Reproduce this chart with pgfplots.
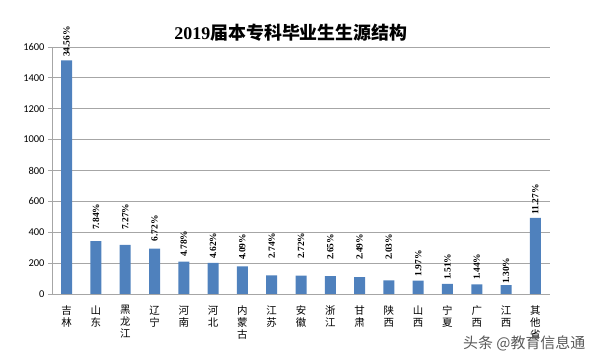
\documentclass[border=0pt]{standalone}
\usepackage{pgfplots}
\pgfplotsset{compat=1.18}
\usepackage{pgfplotstable}
\usepackage{fontspec}
\setmainfont{Liberation Serif}
\newfontfamily\cjk{Noto Sans CJK SC}
\newfontfamily\tickfont{Carlito}
\definecolor{barblue}{RGB}{79,129,189}
\definecolor{gridgray}{RGB}{166,166,166}
\pgfplotstableread{
x v ly lab
0 1514 1535 34.56
1 343 415 7.84
2 318 415 7.27
3 294 339 6.72
4 209 240 4.78
5 202 227 4.62
6 179 220 4.09
7 120 227 2.74
8 119 227 2.72
9 116 220 2.65
10 109 220 2.49
11 89 220 2.03
12 86 112 1.97
13 66 91 1.51
14 63 91 1.44
15 57 65 1.30
16 493 512 11.27
}\data
\begin{document}
\begin{tikzpicture}
\useasboundingbox (0,0) rectangle (598bp,356bp);
\begin{axis}[
  at={(52bp,62bp)}, anchor=south west,
  scale only axis, width=498bp, height=247bp,
  xmin=-0.5, xmax=16.5, ymin=0, ymax=1600,
  clip=false,
  axis lines*=left,
  axis line style={gridgray, line width=0.8pt},
  ytick={0,200,...,1600},
  ymajorgrids, grid style={gridgray, line width=0.8pt},
  tick align=outside, major tick length=4bp,
  ytick style={gridgray, line width=0.8pt},
  xtick style={draw=none},
  xtick={0,...,16},
  xticklabels={{吉\\林},{山\\东},{黑\\龙\\江},{辽\\宁},{河\\南},{河\\北},{内\\蒙\\古},{江\\苏},{安\\徽},{浙\\江},{甘\\肃},{陕\\西},{山\\西},{宁\\夏},{广\\西},{江\\西},{其\\他\\省}},
  xticklabel style={font=\cjk\fontsize{10.5}{12}\selectfont, align=center, anchor=north, yshift=-4bp},
  yticklabel style={font=\tickfont\fontsize{10.5}{12}\selectfont},
  /pgf/number format/assume math mode=true,
  /pgf/number format/1000 sep={},
]
\addplot[ybar, bar width=11bp, bar shift=0pt, fill=barblue, draw=none] table[x=x,y=v]{\data};
\addplot[ybar, bar width=11bp, bar shift=0pt, draw=none, fill=none,
  point meta=explicit symbolic,
  nodes near coords={\pgfplotspointmeta\%},
  nodes near coords style={rotate=90, anchor=west, inner sep=0pt, text=black, font=\bfseries\fontsize{9.5}{9.5}\selectfont}]
  table[x=x,y=ly,meta=lab]{\data};
\end{axis}
\node at (291bp,323bp) {\cjk\bfseries\fontsize{18}{18}\selectfont {\rmfamily 2019}届本专科毕业生生源结构};
\node[anchor=west, text=black!65, inner sep=0pt] at (463bp,13bp) {\cjk\fontsize{15}{15}\selectfont 头条 @教育信息通};
\end{tikzpicture}
\end{document}
